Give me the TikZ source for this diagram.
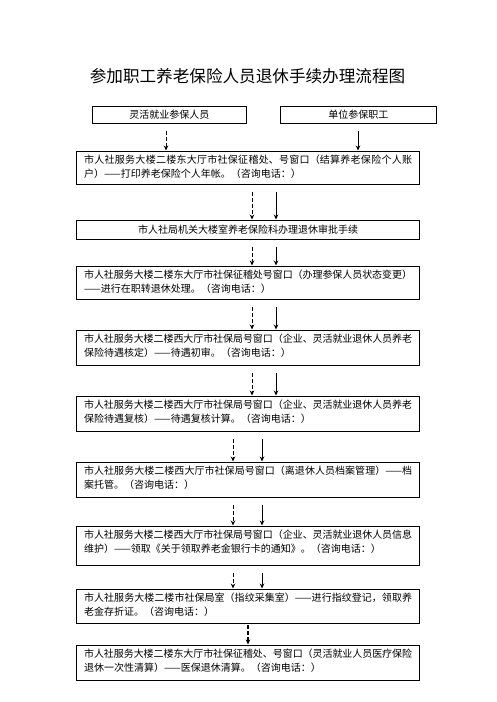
\documentclass[tikz,border=0pt]{standalone}
\usepackage{fontspec}
\setmainfont{Noto Sans CJK SC}
\usetikzlibrary{arrows.meta}
\XeTeXlinebreaklocale "zh"
\XeTeXlinebreakskip=0pt plus 3pt minus 1pt
\begin{document}
\begin{tikzpicture}[x=1pt,y=-1pt,
  titlestyle/.style={inner sep=0pt, font=\fontsize{16.6}{20}\selectfont},
  topbox/.style={draw, line width=0.8pt, minimum width=154pt, minimum height=17pt,
    inner sep=0pt, anchor=north west, font=\fontsize{10}{12}\selectfont},
  stepbox/.style={draw, line width=1.2pt, text width=328pt, inner xsep=7.5pt,
    inner ysep=3pt, align=justify, anchor=north west,
    font=\fontsize{10}{14.3}\selectfont, text height=9pt},
  linebox/.style={draw, line width=1.2pt, minimum width=343pt, minimum height=19pt,
    inner sep=0pt, anchor=north west, font=\fontsize{10}{12}\selectfont},
  tip/.style={-{Stealth[length=5pt,width=4.5pt]}},
  darr/.style={tip, line width=0.8pt, dash pattern=on 4pt off 2pt,
    shorten <=7pt, shorten >=0.5pt},
  sarr/.style={tip, line width=0.8pt, shorten <=7pt, shorten >=0.5pt}]
\useasboundingbox (0,0) rectangle (496,702);

\node[titlestyle] (title) at (247.5,76) {参加职工养老保险人员退休手续办理流程图};

\node[topbox, minimum width=154pt] (flex) at (92,106) {灵活就业参保人员};
\node[topbox, minimum width=156pt] (unit) at (280,106) {单位参保职工};

\node[stepbox, text depth=18pt] (b1) at (76,151)
  {市人社服务大楼二楼东大厅市社保征稽处、号窗口（结算养老保险个人账\linebreak 户）——打印养老保险个人年帐。（咨询电话：）};
\node[linebox] (b2) at (76,220)
  {市人社局机关大楼室养老保险科办理退休审批手续};
\node[stepbox, text depth=18pt] (b3) at (76,266)
  {市人社服务大楼二楼东大厅市社保征稽处号窗口（办理参保人员状态变更）\linebreak ——进行在职转退休处理。（咨询电话：）};
\node[stepbox, text depth=20pt] (b4) at (76,330)
  {市人社服务大楼二楼西大厅市社保局号窗口（企业、灵活就业退休人员养老\linebreak 保险待遇核定）——待遇初审。（咨询电话：）};
\node[stepbox, text depth=20pt] (b5) at (76,396)
  {市人社服务大楼二楼西大厅市社保局号窗口（企业、灵活就业退休人员养老\linebreak 保险待遇复核）——待遇复核计算。（咨询电话：）};
\node[stepbox, text depth=20pt] (b6) at (76,462)
  {市人社服务大楼二楼西大厅市社保局号窗口（离退休人员档案管理）——档\linebreak 案托管。（咨询电话：）};
\node[stepbox, text depth=24pt] (b7) at (76,526)
  {市人社服务大楼二楼西大厅市社保局号窗口（企业、灵活就业退休人员信息\linebreak 维护）——领取《关于领取养老金银行卡的通知》。（咨询电话：）};
\node[stepbox, text depth=19pt] (b8) at (76,589)
  {市人社服务大楼二楼市社保局室（指纹采集室）——进行指纹登记，领取养\linebreak 老金存折证。（咨询电话：）};
\node[stepbox, text depth=20pt] (b9) at (76,645)
  {市人社服务大楼二楼东大厅市社保征稽处、号窗口（灵活就业人员医疗保险\linebreak 退休一次性清算）——医保退休清算。（咨询电话：）};

\coordinate (xf) at (166,0);
\coordinate (xu) at (358,0);
\coordinate (xa) at (252,0);
\coordinate (xb) at (276,0);
\coordinate (xc) at (233,0);
\coordinate (xd) at (262,0);
\coordinate (xe) at (248,0);

\draw[darr] (flex.south -| xf) -- (b1.north -| xf);
\draw[sarr] (unit.south -| xu) -- (b1.north -| xu);
\foreach \s/\t in {b1/b2,b2/b3,b3/b4,b4/b5}{
  \draw[darr] (\s.south -| xa) -- (\t.north -| xa);
  \draw[sarr] (\s.south -| xb) -- (\t.north -| xb);
}
\foreach \s/\t in {b5/b6,b6/b7,b7/b8}{
  \draw[darr] (\s.south -| xc) -- (\t.north -| xc);
  \draw[sarr] (\s.south -| xd) -- (\t.north -| xd);
}
\draw[darr, line width=1.2pt, shorten <=1pt] (b8.south -| xe) -- (b9.north -| xe);
\end{tikzpicture}
\end{document}
